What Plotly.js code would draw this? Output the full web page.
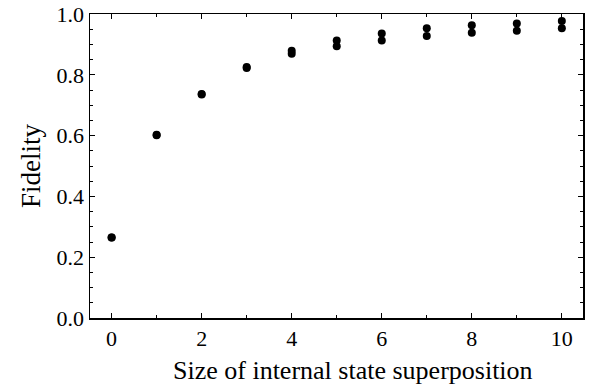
<!DOCTYPE html>
<html>
<head>
<meta charset="utf-8">
<script src="https://cdn.plot.ly/plotly-3.0.1.min.js"></script>
<style>html,body{margin:0;padding:0;background:#fff;}#chart{width:590px;height:384px;}</style>
</head>
<body>
<div id="chart"></div>
<script>
const sizes = [0, 1, 2, 3, 4, 5, 6, 7, 8, 9, 10];
const fidelityUpper = [0.265, 0.603, 0.737, 0.826, 0.879, 0.913, 0.936, 0.953, 0.963, 0.969, 0.977];
const fidelityLower = [0.265, 0.601, 0.735, 0.822, 0.869, 0.894, 0.913, 0.928, 0.938, 0.945, 0.953];
const xTickVals = [0, 2, 4, 6, 8, 10];
const yTickVals = [0.0, 0.2, 0.4, 0.6, 0.8, 1.0];
const yTickText = ['0.0', '0.2', '0.4', '0.6', '0.8', '1.0'];
const xTitle = 'Size of internal state superposition';
const yTitle = 'Fidelity';

const font = 'Liberation Serif, Times New Roman, serif';
const marker = {color: '#000', size: 8, symbol: 'circle'};

const traces = [
  {x: sizes, y: fidelityUpper, mode: 'markers', type: 'scatter', marker: marker, showlegend: false},
  {x: sizes, y: fidelityLower, mode: 'markers', type: 'scatter', marker: marker, showlegend: false}
];

const layout = {
  width: 590, height: 384,
  margin: {l: 90, r: 7, t: 14, b: 66},
  paper_bgcolor: '#fff', plot_bgcolor: '#fff',
  font: {family: font, color: '#000', size: 22},
  xaxis: {
    range: [-0.48, 10.47],
    tickvals: xTickVals,
    ticks: 'inside', ticklen: 5, tickwidth: 1, tickcolor: '#000',
    minor: {dtick: 1, ticks: 'inside', ticklen: 3, tickcolor: '#000'},
    showline: true, linecolor: '#000', linewidth: 1.5, mirror: 'allticks',
    showgrid: false, zeroline: false,
    tickfont: {family: font, size: 22}
  },
  yaxis: {
    range: [0, 1],
    tickvals: yTickVals, ticktext: yTickText,
    ticks: 'inside', ticklen: 5, tickwidth: 1, tickcolor: '#000',
    minor: {dtick: 0.05, ticks: 'inside', ticklen: 3, tickcolor: '#000'},
    showline: true, linecolor: '#000', linewidth: 1.5, mirror: 'allticks',
    showgrid: false, zeroline: false,
    tickfont: {family: font, size: 22},
    title: {text: yTitle, font: {family: font, size: 27}, standoff: 8}
  },
  annotations: [{
    text: xTitle, xref: 'paper', yref: 'paper', x: 0.533, y: -0.12,
    xanchor: 'center', yanchor: 'top', showarrow: false,
    font: {family: font, size: 26, color: '#000'}
  }]
};

Plotly.newPlot('chart', traces, layout, {displayModeBar: false, staticPlot: true});
</script>
</body>
</html>
